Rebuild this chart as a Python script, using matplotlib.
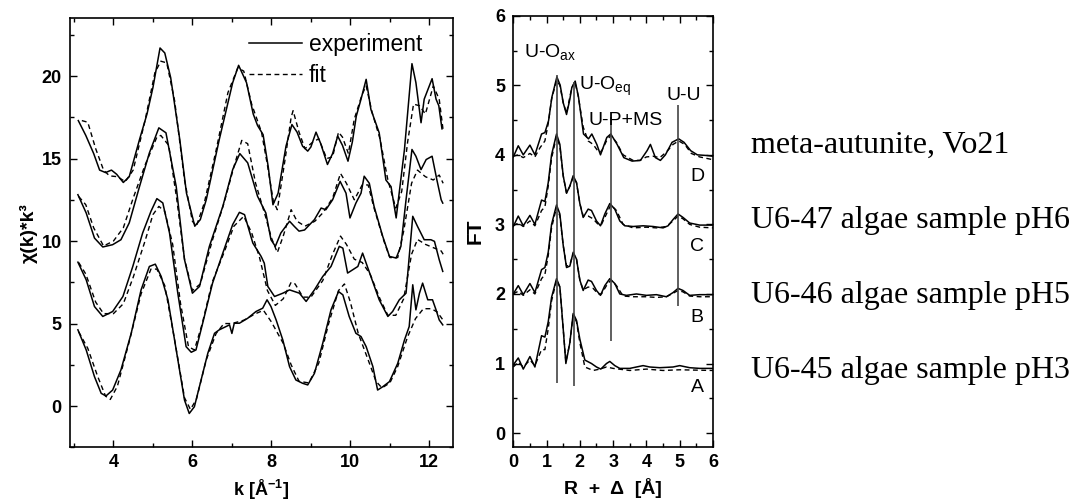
import matplotlib
matplotlib.use('Agg')
import matplotlib.pyplot as plt
from matplotlib.ticker import MultipleLocator

plt.rcParams['font.family'] = ['Liberation Sans', 'DejaVu Sans']
plt.rcParams['mathtext.fontset'] = 'custom'
plt.rcParams['mathtext.rm'] = 'Liberation Sans'
plt.rcParams['mathtext.bf'] = 'Liberation Sans:bold'

# ---- chi(k) data, left panel (k, value) ----
D_exp = [(3.11, 17.3), (3.3, 16.4), (3.5, 15.3), (3.65, 14.3), (3.8, 14.15), (3.95, 14.3), (4.08, 14.05),
         (4.25, 13.55), (4.4, 13.9), (4.66, 16.15), (4.85, 17.7), (5.0, 19.3), (5.18, 21.7), (5.3, 21.4),
         (5.45, 19.9), (5.68, 16.15), (5.85, 12.9), (6.06, 10.9), (6.2, 11.3), (6.35, 12.5), (6.68, 16.15),
         (7.02, 19.6), (7.17, 20.65), (7.37, 19.6), (7.54, 17.7), (7.65, 17.0), (7.79, 16.45), (7.92, 14.5),
         (8.04, 12.2), (8.17, 12.9), (8.37, 15.75), (8.52, 17.06), (8.65, 16.6), (8.79, 15.75), (8.92, 15.45),
         (9.0, 15.7), (9.13, 16.6), (9.25, 15.9), (9.42, 14.64), (9.55, 15.3), (9.68, 16.36), (9.8, 15.8),
         (9.94, 14.84), (10.05, 16.0), (10.15, 17.57), (10.27, 18.6), (10.4, 19.8), (10.52, 17.98),
         (10.73, 16.56), (10.9, 13.7), (11.03, 13.3), (11.16, 11.4), (11.37, 15.55), (11.56, 20.75),
         (11.66, 19.6), (11.79, 17.17), (11.87, 18.6), (12.07, 19.84), (12.17, 18.6), (12.24, 18.2),
         (12.32, 16.8)]
D_fit = [(3.2, 17.3), (3.35, 17.2), (3.55, 15.6), (3.75, 14.3), (3.9, 13.95), (4.1, 13.9), (4.3, 13.6),
         (4.5, 14.3), (4.8, 17.3), (5.05, 20.2), (5.2, 20.9), (5.35, 20.8), (5.55, 18.5), (5.8, 13.7),
         (6.0, 11.2), (6.1, 10.9), (6.3, 12.3), (6.6, 15.5), (6.9, 19.0), (7.15, 20.5), (7.3, 20.3),
         (7.5, 18.3), (7.75, 16.6), (7.9, 14.6), (8.05, 12.4), (8.15, 11.9), (8.35, 15.0), (8.5, 17.5),
         (8.55, 17.9), (8.7, 16.6), (8.85, 15.6), (9.05, 16.0), (9.2, 16.2), (9.4, 15.0), (9.55, 15.1),
         (9.7, 16.6), (9.8, 16.3), (9.95, 15.3), (10.1, 17.4), (10.3, 18.9), (10.4, 19.4), (10.55, 17.8),
         (10.75, 16.2), (10.95, 13.7), (11.15, 12.0), (11.3, 13.0), (11.45, 16.0), (11.6, 18.3),
         (11.75, 18.2), (11.9, 17.7), (12.1, 19.4), (12.25, 18.6), (12.35, 16.7)]

C_exp = [(3.1, 12.81), (3.31, 11.7), (3.52, 10.18), (3.73, 9.64), (3.98, 9.78), (4.19, 10.08), (4.4, 11.1),
         (4.66, 13.3), (4.91, 15.34), (5.15, 16.86), (5.33, 16.56), (5.59, 13.3), (5.8, 8.87), (6.0, 6.84),
         (6.18, 7.25), (6.43, 9.68), (6.77, 12.1), (7.02, 14.33), (7.2, 15.3), (7.4, 14.74), (7.65, 12.71),
         (7.86, 11.7), (7.99, 10.08), (8.1, 9.68), (8.24, 10.49), (8.46, 11.2), (8.58, 10.89), (8.7, 10.6),
         (8.84, 10.67), (9.09, 11.3), (9.26, 12.0), (9.38, 11.9), (9.55, 12.5), (9.74, 13.62), (9.89, 12.9),
         (9.99, 11.4), (10.14, 12.3), (10.27, 12.9), (10.35, 13.93), (10.48, 13.5), (10.6, 12.1),
         (10.82, 10.28), (10.99, 9.07), (11.16, 8.97), (11.28, 9.68), (11.41, 12.5), (11.56, 15.55),
         (11.66, 15.14), (11.79, 14.33), (11.92, 14.94), (12.07, 15.14), (12.19, 13.72), (12.3, 12.5),
         (12.34, 12.3)]
C_fit = [(3.12, 12.7), (3.3, 12.2), (3.5, 10.8), (3.75, 9.7), (4.0, 10.0), (4.25, 10.8), (4.5, 12.6),
         (4.8, 14.6), (5.1, 16.3), (5.2, 16.4), (5.4, 15.8), (5.6, 12.6), (5.8, 8.9), (6.0, 7.0), (6.2, 7.4),
         (6.5, 10.0), (6.8, 12.3), (7.05, 14.5), (7.25, 16.1), (7.4, 15.9), (7.6, 13.5), (7.85, 11.5),
         (8.0, 10.2), (8.15, 9.3), (8.3, 10.3), (8.5, 11.9), (8.65, 11.2), (8.85, 10.9), (9.1, 11.2),
         (9.3, 11.7), (9.55, 12.6), (9.75, 14.1), (9.9, 13.5), (10.1, 12.5), (10.3, 13.4), (10.45, 13.4),
         (10.6, 12.0), (10.85, 10.0), (11.0, 9.0), (11.2, 9.0), (11.35, 10.6), (11.55, 13.5), (11.7, 14.3),
         (11.9, 13.9), (12.1, 13.7), (12.25, 14.0), (12.35, 13.5)]

B_exp = [(3.1, 8.72), (3.31, 7.65), (3.52, 6.03), (3.73, 5.43), (3.98, 5.73), (4.24, 6.64), (4.49, 8.46),
         (4.74, 10.49), (4.95, 11.8), (5.1, 12.57), (5.25, 12.31), (5.42, 10.49), (5.63, 6.84), (5.84, 3.6),
         (5.97, 3.26), (6.09, 3.4), (6.26, 5.02), (6.51, 7.45), (6.77, 9.27), (7.02, 11.0), (7.19, 11.74),
         (7.32, 11.6), (7.53, 9.88), (7.74, 9.07), (7.82, 8.66), (7.91, 7.25), (8.08, 6.64), (8.29, 6.84),
         (8.46, 7.04), (8.71, 6.84), (8.88, 6.34), (9.09, 7.04), (9.3, 7.85), (9.51, 8.46), (9.72, 9.68),
         (9.81, 9.57), (9.93, 8.06), (10.06, 8.26), (10.19, 8.46), (10.31, 9.27), (10.4, 8.66),
         (10.52, 7.85), (10.73, 6.44), (10.95, 5.43), (11.07, 5.73), (11.24, 6.44), (11.41, 6.84),
         (11.58, 11.5), (11.7, 10.89), (11.87, 10.08), (12.04, 10.08), (12.13, 9.98), (12.25, 8.87),
         (12.34, 8.16)]
B_fit = [(3.12, 8.7), (3.3, 8.0), (3.55, 6.3), (3.75, 5.6), (4.0, 5.6), (4.25, 6.2), (4.5, 7.8), (4.8, 10.0),
         (5.0, 11.6), (5.15, 12.1), (5.3, 11.8), (5.5, 9.8), (5.7, 6.2), (5.9, 3.6), (6.05, 3.4), (6.25, 5.0),
         (6.5, 7.5), (6.8, 9.3), (7.05, 10.9), (7.3, 11.5), (7.5, 10.5), (7.7, 9.0), (7.9, 7.0), (8.1, 6.1),
         (8.3, 6.5), (8.5, 7.5), (8.6, 7.4), (8.8, 6.6), (9.0, 6.6), (9.3, 7.6), (9.55, 9.2), (9.75, 10.3),
         (9.9, 9.8), (10.1, 8.9), (10.3, 8.7), (10.5, 8.0), (10.75, 6.5), (10.95, 5.5), (11.15, 5.5),
         (11.35, 6.5), (11.55, 9.2), (11.7, 10.1), (11.9, 9.8), (12.1, 9.6), (12.3, 9.4), (12.35, 9.2)]

A_exp = [(3.1, 4.62), (3.31, 3.4), (3.52, 1.78), (3.69, 0.77), (3.81, 0.61), (3.98, 0.97), (4.19, 2.19),
         (4.45, 4.41), (4.7, 7.04), (4.91, 8.46), (5.06, 8.6), (5.21, 7.85), (5.38, 6.44), (5.59, 3.4),
         (5.8, 0.36), (5.92, -0.45), (6.05, -0.04), (6.22, 1.58), (6.39, 3.2), (6.56, 4.41), (6.68, 4.62),
         (6.94, 4.92), (7.0, 4.4), (7.06, 5.02), (7.19, 5.02), (7.4, 5.32), (7.61, 5.73), (7.78, 5.93),
         (7.89, 6.44), (7.99, 6.03), (8.12, 5.22), (8.29, 4.0), (8.46, 2.39), (8.62, 1.58), (8.79, 1.38),
         (8.92, 1.28), (9.09, 1.98), (9.3, 3.8), (9.51, 5.83), (9.7, 6.94), (9.81, 6.74), (9.97, 5.43),
         (10.14, 4.41), (10.27, 4.21), (10.4, 3.6), (10.57, 2.39), (10.69, 0.97), (10.82, 1.17),
         (10.99, 1.48), (11.2, 2.59), (11.37, 4.0), (11.49, 4.82), (11.58, 7.35), (11.66, 5.83),
         (11.75, 6.84), (11.83, 7.45), (11.96, 6.44), (12.08, 6.44), (12.17, 5.83), (12.25, 5.22),
         (12.34, 4.92)]
A_fit = [(3.12, 4.5), (3.35, 3.5), (3.6, 1.8), (3.8, 0.6), (3.92, 0.4), (4.1, 1.2), (4.4, 3.9), (4.7, 6.8),
         (4.95, 8.3), (5.1, 8.3), (5.3, 7.3), (5.55, 4.0), (5.8, 0.5), (5.95, -0.2), (6.1, 0.4), (6.35, 2.8),
         (6.6, 4.4), (6.8, 5.0), (7.0, 5.0), (7.3, 5.2), (7.6, 5.6), (7.8, 5.8), (8.0, 5.1), (8.3, 3.8),
         (8.5, 2.5), (8.7, 1.5), (8.95, 1.4), (9.2, 2.6), (9.45, 5.0), (9.7, 7.0), (9.85, 7.4), (10.0, 6.3),
         (10.2, 4.4), (10.45, 2.8), (10.65, 1.5), (10.8, 1.1), (11.0, 1.4), (11.2, 2.4), (11.45, 4.2),
         (11.65, 5.3), (11.85, 5.9), (12.05, 5.9), (12.2, 5.7), (12.35, 5.2)]

# ---- Fourier transform data, right panel (R, value) ----
D_ft = [(0.0, 3.97), (0.15, 4.13), (0.3, 4.0), (0.5, 4.14), (0.65, 4.0), (0.85, 4.3), (0.95, 4.32), (1.06, 4.49),
        (1.16, 4.83), (1.31, 5.12), (1.41, 5.0), (1.5, 4.75), (1.6, 4.58), (1.7, 4.8), (1.76, 4.97),
        (1.86, 5.06), (1.96, 4.83), (2.11, 4.3), (2.26, 4.23), (2.36, 4.3), (2.51, 4.15), (2.62, 4.0),
        (2.81, 4.25), (2.93, 4.3), (3.12, 4.15), (3.32, 3.96), (3.57, 3.91), (3.82, 3.92), (4.02, 4.06),
        (4.12, 4.15), (4.27, 3.96), (4.42, 3.92), (4.57, 4.0), (4.77, 4.18), (4.97, 4.23), (5.13, 4.18),
        (5.33, 4.06), (5.53, 4.0), (5.83, 3.99), (6.0, 3.98)]
D_ft_fit = [(0.0, 3.98), (0.15, 4.0), (0.3, 3.96), (0.5, 4.02), (0.65, 3.97), (0.8, 4.1), (0.95, 4.2),
            (1.05, 4.45), (1.15, 4.8), (1.3, 5.07), (1.4, 5.0), (1.5, 4.75), (1.6, 4.6), (1.75, 4.95),
            (1.85, 5.05), (1.95, 4.85), (2.1, 4.4), (2.25, 4.2), (2.4, 4.15), (2.55, 4.05), (2.65, 4.05),
            (2.8, 4.2), (2.93, 4.28), (3.1, 4.18), (3.3, 4.0), (3.6, 3.92), (3.8, 3.92), (4.0, 3.97),
            (4.2, 3.98), (4.4, 3.96), (4.6, 4.04), (4.8, 4.15), (4.97, 4.2), (5.15, 4.15), (5.35, 4.02),
            (5.6, 3.97), (5.8, 3.95), (6.0, 3.93)]
C_ft = [(0.0, 2.97), (0.15, 3.12), (0.3, 2.98), (0.5, 3.13), (0.65, 3.0), (0.85, 3.35), (0.95, 3.33),
        (1.05, 3.6), (1.15, 4.0), (1.3, 4.3), (1.4, 4.15), (1.5, 3.7), (1.6, 3.45), (1.7, 3.55), (1.8, 3.7),
        (1.9, 3.6), (2.0, 3.3), (2.1, 3.1), (2.25, 3.22), (2.35, 3.2), (2.5, 3.05), (2.62, 2.98), (2.75, 3.15),
        (2.9, 3.3), (3.05, 3.22), (3.2, 3.05), (3.35, 2.98), (3.6, 2.97), (3.9, 2.98), (4.2, 2.97),
        (4.5, 2.95), (4.65, 2.98), (4.8, 3.07), (4.95, 3.15), (5.1, 3.1), (5.3, 3.02), (5.6, 2.99), (6.0, 2.99)]
C_ft_fit = [(0.0, 2.98), (0.15, 3.02), (0.3, 2.97), (0.5, 3.05), (0.65, 2.98), (0.85, 3.2), (0.95, 3.25),
            (1.05, 3.55), (1.15, 3.95), (1.3, 4.27), (1.4, 4.12), (1.5, 3.7), (1.6, 3.45), (1.7, 3.55),
            (1.8, 3.68), (1.9, 3.6), (2.0, 3.3), (2.1, 3.12), (2.25, 3.12), (2.4, 3.08), (2.55, 3.0),
            (2.65, 3.0), (2.8, 3.15), (2.93, 3.28), (3.1, 3.2), (3.3, 3.0), (3.6, 2.95), (4.0, 2.96),
            (4.3, 2.95), (4.6, 2.97), (4.8, 3.05), (4.95, 3.12), (5.1, 3.08), (5.3, 3.0), (5.6, 2.96), (6.0, 2.95)]
B_ft = [(0.0, 2.0), (0.15, 2.12), (0.3, 1.99), (0.5, 2.15), (0.65, 2.02), (0.85, 2.35), (0.95, 2.38),
        (1.05, 2.6), (1.15, 3.0), (1.3, 3.28), (1.4, 3.15), (1.5, 2.7), (1.6, 2.38), (1.7, 2.4), (1.8, 2.6),
        (1.9, 2.5), (2.0, 2.2), (2.1, 2.05), (2.25, 2.2), (2.35, 2.18), (2.5, 2.05), (2.62, 1.98),
        (2.75, 2.12), (2.9, 2.22), (3.05, 2.15), (3.2, 2.0), (3.4, 1.98), (3.7, 2.0), (4.0, 1.98),
        (4.3, 1.99), (4.6, 1.96), (4.8, 2.02), (4.95, 2.08), (5.1, 2.05), (5.3, 1.98), (5.6, 1.99), (6.0, 1.99)]
B_ft_fit = [(0.0, 2.0), (0.15, 2.04), (0.3, 1.98), (0.5, 2.06), (0.65, 2.0), (0.85, 2.22), (0.95, 2.28),
            (1.05, 2.55), (1.15, 2.95), (1.3, 3.25), (1.4, 3.12), (1.5, 2.7), (1.6, 2.4), (1.7, 2.42),
            (1.8, 2.58), (1.9, 2.5), (2.0, 2.2), (2.1, 2.06), (2.25, 2.1), (2.4, 2.08), (2.55, 2.0),
            (2.65, 2.0), (2.8, 2.12), (2.93, 2.2), (3.1, 2.12), (3.3, 1.97), (3.6, 1.96), (4.0, 1.96),
            (4.3, 1.95), (4.6, 1.96), (4.8, 2.01), (4.95, 2.05), (5.1, 2.03), (5.3, 1.97), (5.6, 1.96), (6.0, 1.96)]
A_ft = [(0.0, 0.98), (0.15, 1.08), (0.3, 0.92), (0.5, 1.1), (0.65, 0.95), (0.85, 1.4), (0.95, 1.38),
        (1.05, 1.6), (1.15, 1.95), (1.3, 2.22), (1.4, 2.1), (1.5, 1.5), (1.58, 1.0), (1.7, 1.3), (1.8, 1.72),
        (1.9, 1.62), (2.0, 1.35), (2.15, 1.05), (2.35, 1.0), (2.5, 0.95), (2.63, 0.92), (2.8, 1.0),
        (2.9, 1.03), (3.05, 0.97), (3.2, 0.93), (3.5, 0.93), (3.9, 0.97), (4.1, 0.95), (4.4, 0.94),
        (4.8, 0.95), (5.0, 0.97), (5.3, 0.94), (5.6, 0.93), (6.0, 0.93)]
A_ft_fit = [(0.0, 0.95), (0.15, 1.02), (0.3, 0.95), (0.5, 1.05), (0.65, 0.97), (0.85, 1.2), (0.95, 1.2),
            (1.05, 1.5), (1.15, 1.9), (1.3, 2.2), (1.4, 2.1), (1.5, 1.5), (1.58, 1.02), (1.7, 1.3),
            (1.8, 1.7), (1.9, 1.6), (2.0, 1.3), (2.15, 0.95), (2.4, 0.9), (2.6, 0.92), (2.8, 0.95),
            (3.0, 0.93), (3.5, 0.9), (4.0, 0.92), (4.5, 0.9), (5.0, 0.91), (6.0, 0.9)]

# marker lines: R position, bottom, top
shell_R = [1.32, 1.83, 2.95, 4.95]
shell_lo = [0.72, 0.67, 1.33, 1.82]
shell_hi = [5.15, 5.05, 4.55, 4.72]
letters = ['A', 'B', 'C', 'D']
letter_y = [0.65, 1.66, 2.68, 3.69]
sample_names = ['meta-autunite, Vo21', 'U6-47 algae sample pH6',
                'U6-46 algae sample pH5', 'U6-45 algae sample pH3']

fig = plt.figure(figsize=(10.72, 5.04), dpi=100)
ax1 = fig.add_axes([0.0653, 0.1125, 0.3573, 0.8512])
ax2 = fig.add_axes([0.4788, 0.1131, 0.1863, 0.8557])

dash = (3.5, 2.5)
for exp, fit in [(D_exp, D_fit), (C_exp, C_fit), (B_exp, B_fit), (A_exp, A_fit)]:
    ax1.plot([p[0] for p in exp], [p[1] for p in exp], color='black', lw=1.1)
    ax1.plot([p[0] for p in fit], [p[1] for p in fit], color='black', lw=1.0, dashes=dash)

ax1.plot([], [], color='black', lw=1.1, label='experiment')
ax1.plot([], [], color='black', lw=1.0, dashes=dash, label='fit')
ax1.legend(loc='upper right', bbox_to_anchor=(0.92, 0.966), frameon=False, fontsize=16.5,
           handlelength=2.3, handletextpad=0.3, labelspacing=0.34, borderaxespad=0, borderpad=0)

ax1.set_xlim(2.9, 12.6)
ax1.set_ylim(-2.5, 23.5)
ax1.xaxis.set_major_locator(MultipleLocator(2))
ax1.xaxis.set_minor_locator(MultipleLocator(1))
ax1.yaxis.set_major_locator(MultipleLocator(5))
ax1.yaxis.set_minor_locator(MultipleLocator(2.5))
ax1.set_xlabel(r'k [Å$^{\mathbf{-1}}$]', fontsize=13, fontweight='bold', labelpad=5)
ax1.set_ylabel('χ(k)*k³', fontsize=14, fontweight='bold', labelpad=3)

for exp, fit in [(D_ft, D_ft_fit), (C_ft, C_ft_fit), (B_ft, B_ft_fit), (A_ft, A_ft_fit)]:
    ax2.plot([p[0] for p in exp], [p[1] for p in exp], color='black', lw=1.1)
    ax2.plot([p[0] for p in fit], [p[1] for p in fit], color='black', lw=1.0, dashes=dash)

ax2.vlines(shell_R, shell_lo, shell_hi, color='#444444', lw=1.2)
ax2.text(0.32, 5.39, r'U-O$_{\mathrm{ax}}$', fontsize=14)
ax2.text(1.96, 4.93, r'U-O$_{\mathrm{eq}}$', fontsize=14)
ax2.text(2.26, 4.43, 'U-P+MS', fontsize=14)
ax2.text(4.6, 4.79, 'U-U', fontsize=14)
for lab, yy in zip(letters, letter_y):
    ax2.text(5.53, yy, lab, fontsize=14, ha='center', va='center')

ax2.set_xlim(0, 6)
ax2.set_ylim(-0.2, 6)
ax2.xaxis.set_major_locator(MultipleLocator(1))
ax2.xaxis.set_minor_locator(MultipleLocator(0.5))
ax2.yaxis.set_major_locator(MultipleLocator(1))
ax2.yaxis.set_minor_locator(MultipleLocator(0.5))
ax2.set_xlabel('R  +  Δ  [Å]', fontsize=14, fontweight='bold', labelpad=5)
ax2.set_ylabel('FT', fontsize=15, fontweight='bold', labelpad=7)

for ax in (ax1, ax2):
    ax.tick_params(which='both', direction='in', top=True, right=True, labelsize=13, width=1.0)
    ax.tick_params(which='major', length=5)
    ax.tick_params(which='minor', length=3)
    ax.tick_params(axis='y', pad=6)
    ax.tick_params(axis='x', pad=5)
    for lab in ax.get_xticklabels() + ax.get_yticklabels():
        lab.set_fontweight('bold')
    for s in ax.spines.values():
        s.set_linewidth(1.2)

for name, yy in zip(sample_names, [0.696, 0.548, 0.399, 0.25]):
    fig.text(0.7006, yy, name, fontsize=23, family=['Liberation Serif', 'DejaVu Serif'], va='baseline')

fig.savefig('out.png', dpi=100)
